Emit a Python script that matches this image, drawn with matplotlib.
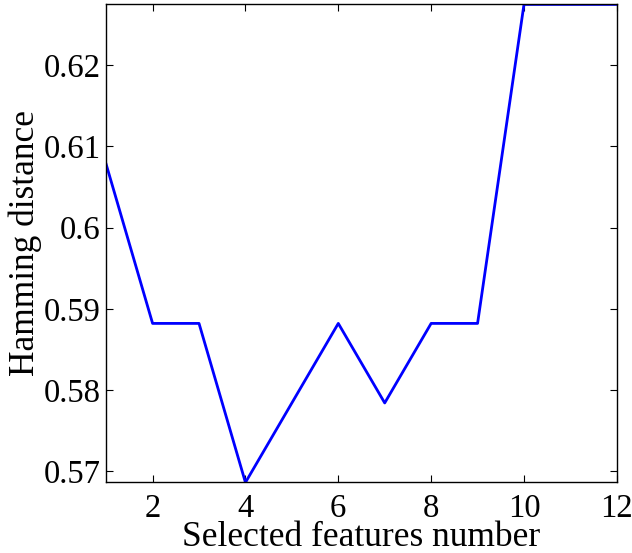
import numpy as np
import matplotlib
matplotlib.use('Agg')
import matplotlib.pyplot as plt

# data
features = [1, 2, 3, 4, 5, 6, 7, 8, 9, 10, 11, 12]
hamming = [0.6078, 0.5882, 0.5882, 0.5686, 0.5784, 0.5882,
           0.5784, 0.5882, 0.5882, 0.6275, 0.6275, 0.6275]
xticks = [2, 4, 6, 8, 10, 12]
yticks = [0.57, 0.58, 0.59, 0.60, 0.61, 0.62]
yticklabels = ['0.57', '0.58', '0.59', '0.6', '0.61', '0.62']

plt.rcParams['font.family'] = ['Liberation Serif', 'DejaVu Serif']

fig = plt.figure(figsize=(6.32, 5.53), dpi=100)
ax = fig.add_axes([0.168, 0.1275, 0.808, 0.8645])
ax.plot(features, hamming, color=(0, 0, 1), lw=2.0)

ax.set_xlim(min(features), max(features))
ax.set_ylim(min(hamming), max(hamming))
ax.set_xticks(xticks)
ax.set_yticks(yticks)
ax.set_yticklabels(yticklabels)
ax.tick_params(direction='in', top=True, right=True, labelsize=23.5,
               length=5, width=0.8)
ax.tick_params(axis='x', pad=8)
ax.tick_params(axis='y', pad=4)
for s in ax.spines.values():
    s.set_linewidth(1.0)

ax.set_xlabel('Selected features number', fontsize=25.5, labelpad=-2)
ax.set_ylabel('Hamming distance', fontsize=25.5, labelpad=1)

fig.savefig('out.png', dpi=100)
